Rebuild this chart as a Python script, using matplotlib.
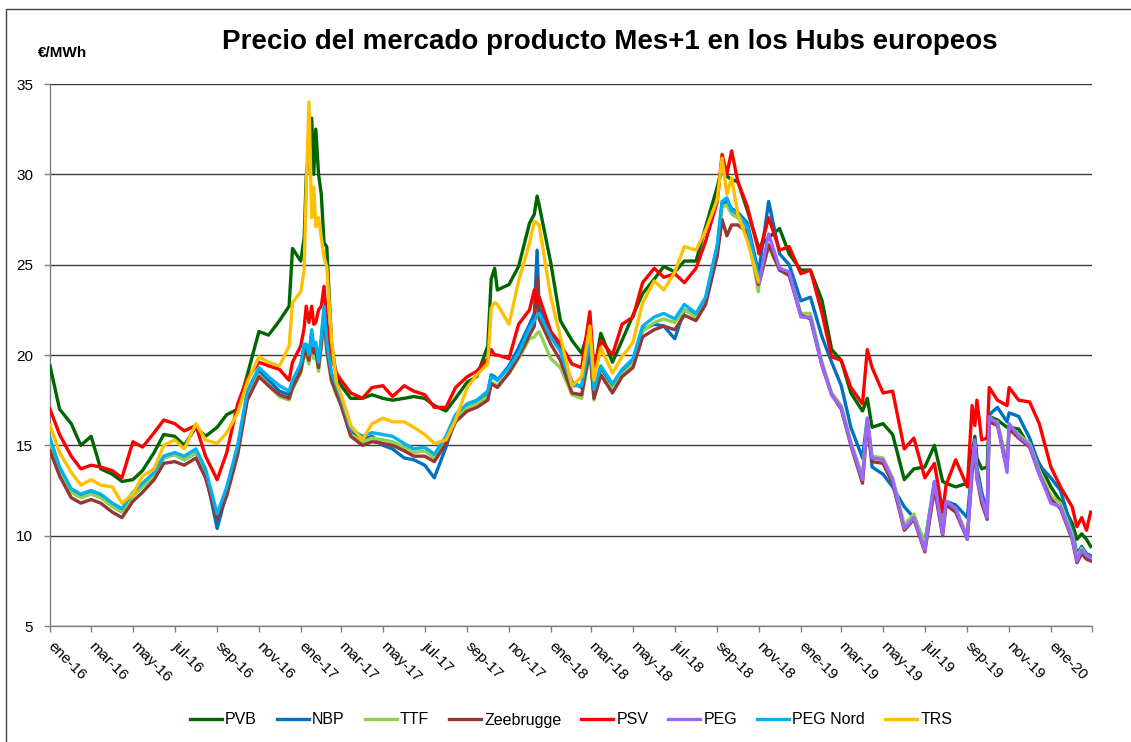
import numpy as np
import pandas as pd
import matplotlib
matplotlib.use("Agg")
import matplotlib.pyplot as plt
import matplotlib.dates as mdates
from matplotlib.patches import Rectangle

plt.rcParams['font.family'] = ['Liberation Sans', 'DejaVu Sans']

# Fechas de lectura (aprox. quincenal, con puntos extra en los picos)
fechas = [
    # 2016
    "2016-01-01", "2016-01-15", "2016-02-01", "2016-02-15", "2016-03-01", "2016-03-15",
    "2016-04-01", "2016-04-15", "2016-05-01", "2016-05-15", "2016-06-01", "2016-06-15",
    "2016-07-01", "2016-07-15", "2016-08-01", "2016-08-15", "2016-09-01", "2016-09-15",
    "2016-10-01", "2016-10-15", "2016-11-01", "2016-11-15", "2016-12-01", "2016-12-15",
    "2016-12-20",
    # 2017
    "2017-01-01", "2017-01-06", "2017-01-09", "2017-01-13", "2017-01-17", "2017-01-20",
    "2017-01-23", "2017-01-27", "2017-01-31", "2017-02-04", "2017-02-08", "2017-02-15",
    "2017-02-22", "2017-03-01", "2017-03-15", "2017-04-01", "2017-04-15", "2017-05-01",
    "2017-05-15", "2017-06-01", "2017-06-15", "2017-07-01", "2017-07-15", "2017-08-01",
    "2017-08-15", "2017-09-01", "2017-09-15", "2017-10-01", "2017-10-06", "2017-10-11",
    "2017-10-15", "2017-11-01", "2017-11-15", "2017-12-01", "2017-12-08", "2017-12-12",
    "2017-12-15",
    # 2018
    "2018-01-01", "2018-01-15", "2018-02-01", "2018-02-15", "2018-02-27", "2018-03-05",
    "2018-03-15", "2018-04-01", "2018-04-15", "2018-05-01", "2018-05-15", "2018-06-01",
    "2018-06-15", "2018-07-01", "2018-07-15", "2018-08-01", "2018-08-15", "2018-09-01",
    "2018-09-08", "2018-09-15", "2018-09-22", "2018-10-01", "2018-10-15", "2018-10-31",
    "2018-11-01", "2018-11-15", "2018-12-01", "2018-12-15",
    # 2019
    "2019-01-01", "2019-01-15", "2019-02-01", "2019-02-15", "2019-03-01", "2019-03-15",
    "2019-04-01", "2019-04-08", "2019-04-15", "2019-05-01", "2019-05-15", "2019-06-01",
    "2019-06-15", "2019-07-01", "2019-07-15", "2019-07-27", "2019-08-01", "2019-08-15",
    "2019-09-01", "2019-09-08", "2019-09-12", "2019-09-15", "2019-09-22", "2019-09-30",
    "2019-10-03", "2019-10-15", "2019-10-29", "2019-11-01", "2019-11-15", "2019-12-01",
    "2019-12-15",
    # 2020
    "2020-01-01", "2020-01-15", "2020-02-01", "2020-02-08", "2020-02-15", "2020-02-22",
    "2020-02-28",
]

pvb = [
    19.4, 17.0, 16.2, 15.0, 15.5, 13.7, 13.4, 13.0, 13.1, 13.6, 14.6, 15.6, 15.5, 15.0, 16.0,
    15.5, 16.0, 16.7, 17.0, 18.9, 21.3, 21.1, 21.9, 22.7, 25.9,
    25.2, 26.5, 29.8, 31.5, 33.1, 30.0, 32.5, 30.0, 28.9, 26.2, 26.0, 20.6, 18.8, 18.3, 17.6,
    17.6, 17.8, 17.6, 17.5, 17.6, 17.7, 17.6, 17.2, 16.9, 17.6, 18.5, 18.8, 20.5, 24.2, 24.8,
    23.6, 23.9, 24.9, 27.3, 27.8, 28.8, 28.3,
    25.1, 21.9, 20.8, 20.1, 21.6, 19.0, 21.2, 19.6, 20.8, 22.2, 23.4, 24.2, 24.9, 24.6, 25.2,
    25.2, 27.1, 29.3, 30.4, 29.9, 29.7, 29.6, 28.0, 26.0, 26.0, 26.5, 27.0, 25.6,
    24.7, 24.7, 23.0, 20.3, 19.7, 17.9, 16.9, 17.6, 16.0, 16.2, 15.6, 13.1, 13.7, 13.8, 15.0,
    13.0, 12.9, 12.7, 12.9, 14.5, 15.5, 14.3, 13.7, 13.8, 16.6, 16.4, 16.0, 16.0, 15.9, 14.9,
    14.0,
    12.7, 11.9, 10.7, 9.8, 10.1, 9.8, 9.4,
]

nbp = [
    15.2, 13.7, 12.5, 12.2, 12.4, 12.2, 11.7, 11.4, 12.3, 12.8, 13.4, 14.3, 14.5, 14.2, 14.6,
    13.5, 10.4, 12.4, 14.9, 17.8, 19.1, 18.6, 18.0, 17.8, 18.4,
    19.3, 20.4, 20.5, 19.9, 21.2, 20.3, 20.5, 19.5, 20.8, 22.4, 20.5, 18.8, 18.1, 17.4, 15.8,
    15.3, 15.5, 15.0, 14.8, 14.3, 14.2, 13.9, 13.2, 14.9, 16.5, 17.2, 17.4, 17.9, 18.9, 18.8,
    18.6, 19.4, 20.4, 21.7, 22.3, 25.8, 22.6,
    21.2, 20.3, 18.5, 18.2, 20.5, 17.9, 19.3, 18.3, 19.1, 19.7, 21.4, 21.7, 21.6, 20.9, 22.5,
    22.2, 23.1, 26.0, 28.4, 28.5, 28.1, 27.9, 27.3, 24.6, 24.7, 28.5, 25.6, 25.0,
    23.0, 23.2, 21.0, 19.6, 18.3, 16.0, 14.3, 16.5, 13.8, 13.4, 12.7, 11.6, 11.0, 9.6, 13.0,
    10.5, 11.9, 11.7, 11.0, 13.9, 15.2, 13.8, 12.4, 11.3, 16.7, 17.1, 16.3, 16.8, 16.6, 15.4,
    13.9,
    13.2, 12.5, 10.3, 9.0, 9.4, 9.0, 8.9,
]

ttf = [
    15.0, 13.6, 12.4, 12.1, 12.3, 12.1, 11.6, 11.3, 12.2, 12.7, 13.3, 14.3, 14.5, 14.2, 14.6,
    13.5, 11.1, 12.5, 14.8, 17.7, 18.9, 18.3, 17.7, 17.5, 18.1,
    19.0, 20.0, 20.0, 19.5, 20.7, 19.8, 20.0, 19.1, 20.4, 22.0, 20.1, 18.5, 17.8, 17.2, 15.6,
    15.2, 15.4, 15.3, 15.2, 14.9, 14.6, 14.7, 14.3, 15.3, 16.5, 17.1, 17.3, 17.7, 18.5, 18.4,
    18.3, 19.0, 19.8, 20.9, 21.0, 21.2, 21.3,
    19.8, 19.3, 17.8, 17.6, 20.2, 17.5, 18.9, 18.1, 18.9, 19.5, 21.3, 21.8, 22.0, 21.8, 22.5,
    22.1, 23.0, 25.8, 28.2, 28.3, 27.8, 27.6, 26.9, 23.5, 23.9, 26.0, 24.7, 24.5,
    22.3, 22.3, 19.6, 17.9, 17.2, 15.2, 13.3, 16.5, 14.4, 14.3, 13.2, 10.6, 11.2, 9.5, 12.9,
    10.3, 11.9, 11.5, 10.0, 13.7, 15.0, 13.4, 12.0, 11.1, 16.4, 16.3, 14.0, 16.1, 15.6, 15.1,
    13.6,
    12.2, 11.8, 10.1, 8.8, 9.3, 8.9, 8.8,
]

zeebrugge = [
    14.7, 13.3, 12.1, 11.8, 12.0, 11.8, 11.3, 11.0, 11.9, 12.4, 13.1, 14.0, 14.1, 13.9, 14.3,
    13.2, 10.9, 12.2, 14.5, 17.5, 18.8, 18.3, 17.8, 17.6, 18.2,
    19.1, 20.1, 20.2, 19.7, 21.0, 20.1, 20.2, 19.3, 20.6, 22.2, 20.3, 18.6, 17.9, 17.2, 15.5,
    15.0, 15.2, 15.1, 15.0, 14.7, 14.4, 14.4, 14.1, 15.1, 16.3, 16.9, 17.1, 17.5, 18.4, 18.3,
    18.2, 19.0, 19.9, 21.1, 21.6, 24.3, 22.0,
    20.6, 19.7, 17.9, 17.8, 20.3, 17.6, 18.9, 17.9, 18.8, 19.3, 21.0, 21.4, 21.6, 21.4, 22.2,
    21.9, 22.8, 25.5, 27.5, 26.6, 27.2, 27.2, 26.8, 23.9, 24.0, 26.1, 24.7, 24.4,
    22.2, 22.0, 19.4, 17.8, 17.0, 15.0, 12.9, 16.2, 14.1, 14.0, 12.9, 10.3, 10.9, 9.1, 12.6,
    10.0, 11.7, 11.3, 9.8, 13.5, 14.8, 13.2, 11.8, 10.9, 16.3, 16.1, 13.7, 15.9, 15.4, 14.9,
    13.4,
    12.0, 11.5, 9.8, 8.5, 9.0, 8.7, 8.6,
]

psv = [
    17.0, 15.6, 14.4, 13.7, 13.9, 13.8, 13.6, 13.2, 15.2, 14.9, 15.7, 16.4, 16.2, 15.8, 16.1,
    14.4, 13.1, 14.6, 17.3, 18.7, 19.6, 19.4, 19.2, 18.6, 19.6,
    20.5, 21.5, 22.7, 21.8, 22.7, 21.7, 21.8, 22.5, 22.7, 23.8, 21.8, 19.9, 19.0, 18.6, 17.9,
    17.6, 18.2, 18.3, 17.7, 18.3, 18.0, 17.8, 17.1, 17.1, 18.2, 18.8, 19.1, 19.8, 20.3, 20.0,
    20.0, 19.8, 21.7, 22.5, 23.6, 22.9, 23.2,
    21.3, 20.6, 19.5, 19.3, 22.4, 19.2, 20.8, 20.0, 21.7, 22.1, 24.0, 24.8, 24.3, 24.5, 24.0,
    24.8, 26.3, 28.5, 31.1, 30.0, 31.3, 29.6, 28.2, 25.8, 25.6, 27.6, 25.8, 26.0,
    24.5, 24.7, 22.3, 19.9, 19.7, 18.2, 17.3, 20.3, 19.3, 17.9, 18.0, 14.8, 15.4, 13.2, 14.0,
    11.3, 12.8, 14.2, 12.7, 17.2, 16.1, 17.5, 15.3, 15.4, 18.2, 17.5, 17.2, 18.2, 17.5, 17.4,
    16.2,
    13.8, 12.7, 11.6, 10.5, 11.0, 10.3, 11.3,
]

# PEG Nord y TRS hasta oct-18; PEG desde nov-18
peg_nord = [
    15.4, 13.8, 12.6, 12.3, 12.5, 12.3, 11.8, 11.5, 12.4, 12.9, 13.5, 14.4, 14.6, 14.4, 14.8,
    13.7, 11.2, 12.7, 15.0, 18.0, 19.3, 18.8, 18.3, 18.0, 18.6,
    19.5, 20.6, 20.6, 20.0, 21.4, 20.5, 20.7, 19.6, 21.0, 22.7, 20.7, 19.0, 18.3, 17.6, 15.9,
    15.5, 15.7, 15.6, 15.5, 15.1, 14.8, 14.9, 14.5, 15.5, 16.7, 17.3, 17.5, 18.0, 18.8, 18.7,
    18.6, 19.3, 20.1, 21.5, 21.9, 22.2, 22.3,
    21.0, 20.2, 18.3, 18.3, 20.8, 18.1, 19.4, 18.4, 19.2, 19.8, 21.6, 22.1, 22.3, 22.0, 22.8,
    22.3, 23.2, 26.1, 28.5, 28.7, 28.0, 27.8, 27.1, 24.3,
]

trs = [
    16.1, 14.6, 13.5, 12.8, 13.1, 12.8, 12.7, 11.8, 12.3, 13.3, 13.7, 15.0, 15.3, 14.8, 16.2,
    15.3, 15.1, 15.7, 16.8, 18.5, 19.9, 19.6, 19.4, 20.5, 22.9,
    23.5, 24.7, 29.1, 34.0, 27.6, 29.3, 27.1, 27.6, 26.5, 25.4, 24.9, 20.8, 18.5, 17.8, 16.1,
    15.3, 16.2, 16.5, 16.3, 16.3, 16.0, 15.6, 15.1, 15.3, 16.4, 18.2, 18.9, 19.5, 22.6, 22.9,
    22.8, 21.7, 24.1, 26.2, 27.4, 27.3, 27.2,
    23.2, 21.0, 18.3, 18.8, 21.6, 18.6, 20.4, 19.0, 19.9, 20.7, 22.9, 24.1, 23.6, 24.6, 26.0,
    25.8, 26.9, 28.6, 30.9, 28.9, 29.8, 27.8, 26.3, 24.1,
]

peg = [
    24.0, 26.7, 24.8, 24.6,
    22.1, 22.1, 19.4, 17.8, 17.1, 15.1, 13.1, 16.5, 14.3, 14.2, 13.1, 10.4, 11.0, 9.2, 13.0,
    10.1, 11.9, 11.5, 9.8, 13.8, 15.3, 13.1, 12.1, 11.0, 16.6, 16.2, 13.5, 16.2, 15.5, 15.0,
    13.4,
    11.8, 11.6, 9.9, 8.6, 9.2, 8.9, 8.8,
]

fechas = pd.to_datetime(fechas)
n_viejo = len(peg_nord)
f_viejo = fechas[:n_viejo]
f_peg = fechas[n_viejo:]

series = [
    ("PVB", fechas, pvb, "#006600"),
    ("NBP", fechas, nbp, "#0070C0"),
    ("TTF", fechas, ttf, "#92D050"),
    ("Zeebrugge", fechas, zeebrugge, "#953735"),
    ("PSV", fechas, psv, "#FF0000"),
    ("PEG", f_peg, peg, "#9966FF"),
    ("PEG Nord", f_viejo, peg_nord, "#00B0F0"),
    ("TRS", f_viejo, trs, "#FFC000"),
]

fig = plt.figure(figsize=(11.31, 7.42), dpi=100)
ax = fig.add_axes([50 / 1131, 1 - 626 / 742, 1042 / 1131, 542 / 742])

for i, (nombre, x, y, color) in enumerate(series):
    ax.plot(x, y, color=color, lw=2.4, label=nombre, zorder=3 + i,
            solid_joinstyle='round')

ax.set_ylim(5, 35)
ax.set_yticks(np.arange(5, 36, 5))
ax.set_xlim(pd.Timestamp("2016-01-01"), pd.Timestamp("2020-03-01"))

meses = {1: "ene", 3: "mar", 5: "may", 7: "jul", 9: "sep", 11: "nov"}


def etiqueta(x, pos):
    d = mdates.num2date(x)
    if d.year == 2020 and d.month == 3:
        return ""
    return f"{meses.get(d.month, '')}-{d:%y}"


ax.xaxis.set_major_locator(mdates.MonthLocator(bymonth=[1, 3, 5, 7, 9, 11]))
ax.xaxis.set_major_formatter(plt.FuncFormatter(etiqueta))

for lab in ax.get_xticklabels():
    lab.set_rotation(-45)
    lab.set_ha("left")
    lab.set_va("center")
    lab.set_rotation_mode("anchor")

ax.tick_params(axis="x", direction="out", length=4, width=1, color="#808080",
               labelsize=11, pad=9)
ax.tick_params(axis="y", direction="out", length=4, width=1, color="#808080",
               labelsize=11, pad=8)

ax.grid(axis="y", color="#3a3a3a", lw=1.0, zorder=1)
ax.set_axisbelow(True)
for lado in ["top", "right"]:
    ax.spines[lado].set_visible(False)
for lado in ["left", "bottom"]:
    ax.spines[lado].set_color("#808080")
    ax.spines[lado].set_linewidth(1.0)

fig.text(0.539, 0.943, "Precio del mercado producto Mes+1 en los Hubs europeos",
         ha="center", va="center", fontsize=20, fontweight="bold")
fig.text(38 / 1131, 1 - 53 / 742, "€/MWh", ha="left", va="center",
         fontsize=11, fontweight="bold")

fig.legend(loc="center", bbox_to_anchor=(0.505, 1 - 720 / 742), ncol=8,
           frameon=False, fontsize=11.5, handlelength=2.0, handletextpad=0.2,
           columnspacing=1.25)

# marco exterior
fig.patches.append(Rectangle((6 / 1131, -0.01), 1.2, 1 - 9 / 742 + 0.01,
                             transform=fig.transFigure, fill=False,
                             edgecolor="#404040", lw=1.0))

fig.savefig("out.png", dpi=100)
